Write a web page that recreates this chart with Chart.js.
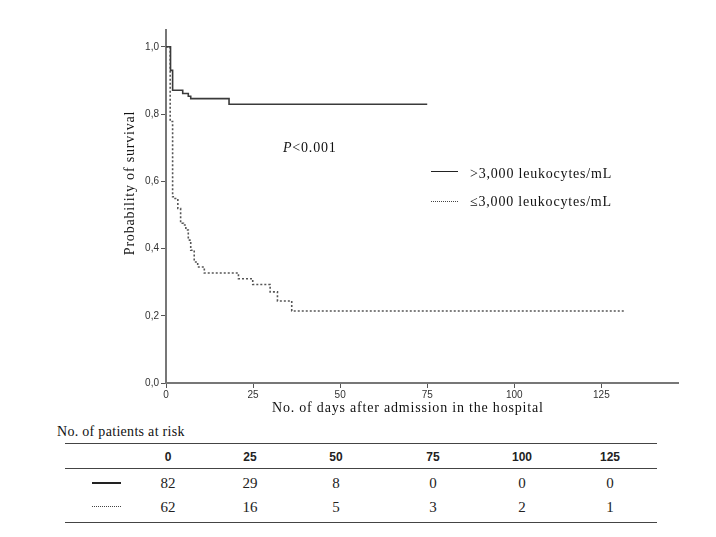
<!DOCTYPE html>
<html>
<head>
<meta charset="utf-8">
<script src="https://cdn.jsdelivr.net/npm/chart.js@4.4.1/dist/chart.umd.min.js"></script>
<style>
  body { margin: 0; background: #fff; }
  #wrap { position: relative; width: 716px; height: 537px; overflow: hidden; font-family: "Liberation Serif", "Times New Roman", serif; color: #111; -webkit-font-smoothing: antialiased; }
  #wrap canvas { position: absolute; left: 0; top: 0; }
  .txt { position: absolute; white-space: nowrap; font-size: 14px; letter-spacing: 0.8px; line-height: 18px; color: #111; }
  .rule { position: absolute; left: 65px; width: 592px; height: 0; border-top: 1.5px solid #444; }
  .cell { position: absolute; width: 40px; margin-left: -20px; text-align: center; line-height: 18px; color: #222; }
  .hdr { font-family: "Liberation Sans", Arial, sans-serif; font-weight: bold; font-size: 12px; }
  .num { font-size: 15px; }
  .key { position: absolute; height: 0; }
</style>
</head>
<body>
<div id="wrap">
  <canvas id="km" width="716" height="403"></canvas>
</div>
<script>
// Kaplan-Meier steps (day of drop, survival after drop)
const highDays = [0, 1.3, 1.9, 4.8, 6.4, 7.1, 18.1, 75];
const highSurv = [1.0, 0.930, 0.871, 0.861, 0.853, 0.846, 0.829, 0.829];

const lowDays = [0, 1.2, 1.9, 2.6, 3.4, 4.2, 5.0, 5.7, 6.4, 7.1, 8.1, 9.1, 11.0, 20.8, 24.9, 29.9, 32.0, 36.1, 132];
const lowSurv = [1.0, 0.778, 0.554, 0.549, 0.519, 0.475, 0.470, 0.455, 0.425, 0.395, 0.360, 0.345, 0.327, 0.310, 0.293, 0.271, 0.244, 0.214, 0.214];

// patients at risk table
const riskDays = [0, 25, 50, 75, 100, 125];
const riskHigh = [82, 29, 8, 0, 0, 0];
const riskLow = [62, 16, 5, 3, 2, 1];

const seriesNames = [">3,000 leukocytes/mL", "\u22643,000 leukocytes/mL"];
const xTitle = "No. of days after admission in the hospital";
const yTitle = "Probability of survival";

const toPts = (xs, ys) => xs.map((x, i) => ({ x: x, y: ys[i] }));

const ctx = document.getElementById("km").getContext("2d");
new Chart(ctx, {
  type: "line",
  data: {
    datasets: [
      {
        label: seriesNames[0],
        data: toPts(highDays, highSurv),
        borderColor: "#3a3a3a",
        borderWidth: 1.6,
        stepped: true,
        pointRadius: 0,
        fill: false,
      },
      {
        label: seriesNames[1],
        data: toPts(lowDays, lowSurv),
        borderColor: "#555",
        borderWidth: 1.6,
        borderDash: [2, 2],
        stepped: true,
        pointRadius: 0,
        fill: false,
      },
    ],
  },
  options: {
    responsive: false,
    animation: false,
    layout: { padding: { left: 100, top: 30, right: 38, bottom: 0 } },
    plugins: { legend: { display: false }, tooltip: { enabled: false } },
    scales: {
      x: {
        type: "linear",
        min: 0,
        max: 147,
        afterFit: (s) => { s.height = 20; },
        border: { display: true, color: "#777", width: 2 },
        grid: { drawOnChartArea: false, drawTicks: true, tickLength: 5, color: "#555" },
        ticks: {
          stepSize: 25,
          includeBounds: false,
          maxRotation: 0,
          padding: 1,
          color: "#333",
          font: { family: "Liberation Sans, Arial, sans-serif", size: 10 },
        },
      },
      y: {
        min: 0,
        max: 1.05,
        afterFit: (s) => { s.width = 66; },
        border: { display: true, color: "#777", width: 2 },
        grid: { drawOnChartArea: false, drawTicks: true, tickLength: 5, color: "#555" },
        ticks: {
          stepSize: 0.2,
          includeBounds: false,
          padding: 2,
          color: "#333",
          font: { family: "Liberation Sans, Arial, sans-serif", size: 10 },
          callback: (v) => v.toFixed(1).replace(".", ","),
        },
      },
    },
  },
});

// text and table around the chart
const wrap = document.getElementById("wrap");
function addDiv(cls, html, style) {
  const d = document.createElement("div");
  d.className = cls;
  d.innerHTML = html;
  Object.assign(d.style, style);
  wrap.appendChild(d);
  return d;
}

addDiv("txt", yTitle, { left: "30px", top: "174px", width: "200px", textAlign: "center", transform: "rotate(-90deg)" });
addDiv("txt", xTitle, { left: "272px", top: "399px" });
addDiv("txt", "<i>P</i>&lt;0.001", { left: "283px", top: "139px" });

// legend
addDiv("key", "", { left: "431px", top: "171px", width: "27px", borderTop: "1.6px solid #222" });
addDiv("txt", seriesNames[0], { left: "470px", top: "165px" });
addDiv("key", "", { left: "431px", top: "201px", width: "27px", borderTop: "1.4px dotted #444" });
addDiv("txt", seriesNames[1], { left: "470px", top: "193px" });

// at-risk table
const colX = [168, 250, 336, 433, 522, 610];
addDiv("txt", "No. of patients at risk", { left: "57px", top: "423px", letterSpacing: "0.3px" });
addDiv("rule", "", { top: "443px" });
addDiv("rule", "", { top: "468px" });
addDiv("rule", "", { top: "522px" });
addDiv("key", "", { left: "92px", top: "482px", width: "29px", borderTop: "2px solid #222" });
addDiv("key", "", { left: "92px", top: "506px", width: "29px", borderTop: "1.4px dotted #444" });
riskDays.forEach((d, i) => {
  addDiv("cell hdr", String(d), { left: colX[i] + "px", top: "448px" });
  addDiv("cell num", String(riskHigh[i]), { left: colX[i] + "px", top: "474px" });
  addDiv("cell num", String(riskLow[i]), { left: colX[i] + "px", top: "498px" });
});
</script>
</body>
</html>
